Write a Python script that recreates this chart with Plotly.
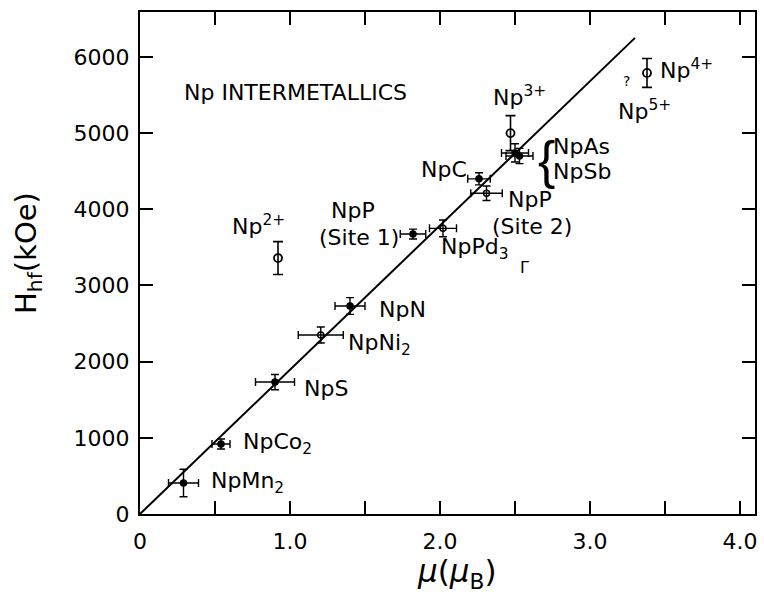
import plotly.graph_objects as go

# Compounds (intermetallics): magnetic moment (mu_B) vs hyperfine field (kOe)
comp_names = ["NpMn2", "NpCo2", "NpS", "NpNi2", "NpN", "NpP (Site 1)", "NpPd3",
              "NpC", "NpP (Site 2)", "NpAs", "NpSb"]
comp_mu = [0.29, 0.54, 0.90, 1.205, 1.40, 1.82, 2.02, 2.26, 2.31, 2.50, 2.53]
comp_h = [407, 919, 1732, 2349, 2730, 3675, 3750, 4400, 4210, 4740, 4700]
comp_mu_err = [0.10, 0.06, 0.13, 0.15, 0.10, 0.085, 0.09, 0.075, 0.105, 0.09, 0.09]
comp_h_err = [180, 65, 100, 105, 110, 65, 110, 80, 95, 120, 100]
comp_open = [False, False, False, True, False, False, True, False, True, False, False]

# Free ions
ion_names = ["Np2+", "Np3+", "Np4+"]
ion_mu = [0.92, 2.47, 3.38]
ion_h = [3360, 5000, 5790]
ion_h_err = [215, 230, 190]

# Fitted line
line_mu = [0.0, 3.30]
line_h = [0.0, 6250.0]

x_tickvals = [0, 0.5, 1.0, 1.5, 2.0, 2.5, 3.0, 3.5, 4.0]
x_ticktext = ["0", "", "1.0", "", "2.0", "", "3.0", "", "4.0"]
y_tickvals = [0, 1000, 2000, 3000, 4000, 5000, 6000]
y_ticktext = ["0", "1000", "2000", "3000", "4000", "5000", "6000"]

FONT = "DejaVu Sans"
LS = 22
fig = go.Figure()

fig.add_trace(go.Scatter(x=line_mu, y=line_h, mode="lines",
                         line=dict(color="black", width=2), showlegend=False,
                         hoverinfo="skip"))

fig.add_trace(go.Scatter(
    x=comp_mu, y=comp_h, mode="markers", text=comp_names, showlegend=False,
    marker=dict(symbol=["circle-open" if o else "circle" for o in comp_open],
                size=6, color="black", line=dict(color="black", width=1.5)),
    error_x=dict(type="data", array=comp_mu_err, color="black", thickness=1.4, width=4),
    error_y=dict(type="data", array=comp_h_err, color="black", thickness=1.4, width=4),
))

fig.add_trace(go.Scatter(
    x=ion_mu, y=ion_h, mode="markers", text=ion_names, showlegend=False,
    marker=dict(symbol="circle-open", size=8, color="black", line=dict(color="black", width=1.8)),
    error_y=dict(type="data", array=ion_h_err, color="black", thickness=1.6, width=5),
))

labels = [
    ("Np INTERMETALLICS", 0.28, 5530, "left", LS),
    ("NpMn<sub>2</sub>", 0.46, 420, "left", LS),
    ("NpCo<sub>2</sub>", 0.67, 930, "left", LS),
    ("NpS", 1.08, 1650, "left", LS),
    ("NpNi<sub>2</sub>", 1.37, 2220, "left", LS),
    ("NpN", 1.58, 2680, "left", LS),
    ("Np<sup>2+</sup>", 0.60, 3790, "left", LS),
    ("NpP", 1.42, 3990, "center", LS),
    ("(Site 1)", 1.74, 3630, "right", LS),
    ("NpC", 2.19, 4520, "right", LS),
    ("NpPd<sub>3</sub>", 1.99, 3490, "left", LS),
    ("NpP", 2.44, 4130, "left", LS),
    ("(Site 2)", 2.33, 3770, "left", LS),
    ("NpAs", 2.74, 4830, "left", LS),
    ("NpSb", 2.74, 4490, "left", LS),
    ("Np<sup>3+</sup>", 2.53, 5490, "center", LS),
    ("Np<sup>4+</sup>", 3.45, 5840, "left", LS),
    ("Np<sup>5+</sup>", 3.17, 5310, "left", LS),
    ("?", 3.24, 5690, "center", 14),
    ("Γ", 2.56, 3230, "center", 16),
]
annotations = []
for txt, x, y, anchor, size in labels:
    annotations.append(dict(x=x, y=y, xref="x", yref="y", text=txt, showarrow=False,
                            xanchor=anchor, yanchor="middle",
                            font=dict(family=FONT, size=size, color="black")))
# brace grouping NpAs / NpSb
annotations.append(dict(x=2.71, y=4650, xref="x", yref="y", text="{", showarrow=False,
                        xanchor="center", yanchor="middle",
                        font=dict(family="Liberation Sans", size=52, color="black")))
# axis titles
annotations.append(dict(x=-0.182, y=0.52, xref="paper", yref="paper",
                        text="H<sub>hf</sub>(kOe)", textangle=-90, showarrow=False,
                        xanchor="center", yanchor="middle",
                        font=dict(family=FONT, size=29, color="black")))
annotations.append(dict(x=0.515, y=-0.118, xref="paper", yref="paper",
                        text="<i>μ</i>(<i>μ</i><sub>B</sub>)", showarrow=False,
                        xanchor="center", yanchor="middle",
                        font=dict(family=FONT, size=31, color="black")))

axis_common = dict(showline=True, linecolor="black", linewidth=2, mirror="ticks",
                   ticks="inside", ticklen=13, tickwidth=1.5, tickcolor="black",
                   showgrid=False, zeroline=False,
                   tickfont=dict(family=FONT, size=22, color="black"))

fig.update_layout(
    width=764, height=597,
    margin=dict(l=140, r=7, t=12, b=83),
    paper_bgcolor="white", plot_bgcolor="white",
    xaxis=dict(range=[0, 4.1], tickvals=x_tickvals, ticktext=x_ticktext,
               ticklabelstandoff=7, **axis_common),
    yaxis=dict(range=[0, 6590], tickvals=y_tickvals, ticktext=y_ticktext,
               ticklabelstandoff=4, **axis_common),
    annotations=annotations,
    showlegend=False,
)

fig.write_html("out.html")
